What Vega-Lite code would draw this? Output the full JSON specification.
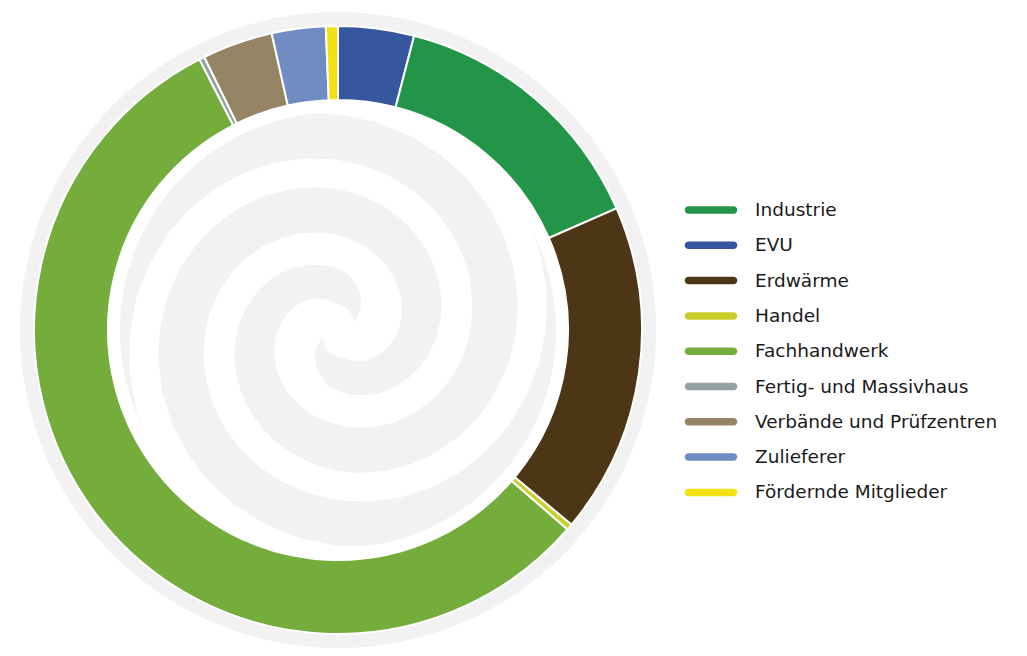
{
  "$schema": "https://vega.github.io/schema/vega-lite/v6.json",
  "width": 640,
  "height": 640,
  "padding": {"left": 18, "top": 10, "right": 0, "bottom": 0},
  "background": "white",
  "config": {"view": {"stroke": null}},
  "datasets": {
    "members": [
      {"name": "EVU", "o": 1, "v": 4.03},
      {"name": "Industrie", "o": 2, "v": 14.42},
      {"name": "Erdwärme", "o": 3, "v": 17.61},
      {"name": "Handel", "o": 4, "v": 0.33},
      {"name": "Fachhandwerk", "o": 5, "v": 56.08},
      {"name": "Fertig- und Massivhaus", "o": 6, "v": 0.28},
      {"name": "Verbände und Prüfzentren", "o": 7, "v": 3.75},
      {"name": "Zulieferer", "o": 8, "v": 2.86},
      {"name": "Fördernde Mitglieder", "o": 9, "v": 0.64}
    ],
    "disc": [{"v": 1}],
    "spiral": [
      {"arm": "A", "a": -120, "x": -210.4, "y": -121.5},
      {"arm": "A", "a": -110, "x": -224.4, "y": -81.7},
      {"arm": "A", "a": -100, "x": -231.1, "y": -40.7},
      {"arm": "A", "a": -90, "x": -230.5, "y": 0},
      {"arm": "A", "a": -80, "x": -222.9, "y": 39.3},
      {"arm": "A", "a": -70, "x": -208.8, "y": 76.0},
      {"arm": "A", "a": -60, "x": -188.8, "y": 109.0},
      {"arm": "A", "a": -50, "x": -163.8, "y": 137.5},
      {"arm": "A", "a": -40, "x": -134.8, "y": 160.6},
      {"arm": "A", "a": -30, "x": -102.8, "y": 178.0},
      {"arm": "A", "a": -20, "x": -68.9, "y": 189.2},
      {"arm": "A", "a": -10, "x": -34.2, "y": 194.2},
      {"arm": "A", "a": 0, "x": 0, "y": 193},
      {"arm": "A", "a": 10, "x": 32.8, "y": 186.0},
      {"arm": "A", "a": 20, "x": 63.2, "y": 173.5},
      {"arm": "A", "a": 30, "x": 90.3, "y": 156.3},
      {"arm": "A", "a": 40, "x": 113.3, "y": 135.1},
      {"arm": "A", "a": 50, "x": 131.9, "y": 110.7},
      {"arm": "A", "a": 60, "x": 145.5, "y": 84.0},
      {"arm": "A", "a": 70, "x": 153.9, "y": 56.0},
      {"arm": "A", "a": 80, "x": 157.2, "y": 27.7},
      {"arm": "A", "a": 90, "x": 155.5, "y": 0},
      {"arm": "A", "a": 100, "x": 149.0, "y": -26.3},
      {"arm": "A", "a": 110, "x": 138.3, "y": -50.3},
      {"arm": "A", "a": 120, "x": 123.8, "y": -71.5},
      {"arm": "A", "a": 130, "x": 106.3, "y": -89.2},
      {"arm": "A", "a": 140, "x": 86.6, "y": -103.2},
      {"arm": "A", "a": 150, "x": 65.3, "y": -113.0},
      {"arm": "A", "a": 160, "x": 43.2, "y": -118.7},
      {"arm": "A", "a": 170, "x": 21.2, "y": -120.3},
      {"arm": "A", "a": 180, "x": 0, "y": -118},
      {"arm": "A", "a": 190, "x": -19.8, "y": -112.1},
      {"arm": "A", "a": 200, "x": -37.5, "y": -103.1},
      {"arm": "A", "a": 210, "x": -52.8, "y": -91.4},
      {"arm": "A", "a": 220, "x": -65.1, "y": -77.6},
      {"arm": "A", "a": 230, "x": -74.4, "y": -62.5},
      {"arm": "A", "a": 240, "x": -80.5, "y": -46.5},
      {"arm": "A", "a": 250, "x": -83.5, "y": -30.4},
      {"arm": "A", "a": 260, "x": -83.4, "y": -14.7},
      {"arm": "A", "a": 270, "x": -80.5, "y": 0},
      {"arm": "A", "a": 280, "x": -75.2, "y": 13.3},
      {"arm": "A", "a": 290, "x": -67.8, "y": 24.7},
      {"arm": "A", "a": 300, "x": -58.9, "y": 34.0},
      {"arm": "A", "a": 310, "x": -48.9, "y": 41.0},
      {"arm": "A", "a": 320, "x": -38.4, "y": 45.7},
      {"arm": "A", "a": 330, "x": -27.8, "y": 48.1},
      {"arm": "A", "a": 340, "x": -17.6, "y": 48.2},
      {"arm": "A", "a": 350, "x": -8.2, "y": 46.5},
      {"arm": "A", "a": 360, "x": 0, "y": 43},
      {"arm": "A", "a": 370, "x": 6.7, "y": 38.2},
      {"arm": "A", "a": 380, "x": 11.9, "y": 32.6},
      {"arm": "A", "a": 390, "x": 15.3, "y": 26.4},
      {"arm": "A", "a": 400, "x": 16.9, "y": 20.2},
      {"arm": "A", "a": 410, "x": 17.0, "y": 14.3},
      {"arm": "A", "a": 420, "x": 15.6, "y": 9.0},
      {"arm": "B", "a": -120, "x": 210.4, "y": 121.5},
      {"arm": "B", "a": -110, "x": 224.4, "y": 81.7},
      {"arm": "B", "a": -100, "x": 231.1, "y": 40.7},
      {"arm": "B", "a": -90, "x": 230.5, "y": 0},
      {"arm": "B", "a": -80, "x": 222.9, "y": -39.3},
      {"arm": "B", "a": -70, "x": 208.8, "y": -76.0},
      {"arm": "B", "a": -60, "x": 188.8, "y": -109.0},
      {"arm": "B", "a": -50, "x": 163.8, "y": -137.5},
      {"arm": "B", "a": -40, "x": 134.8, "y": -160.6},
      {"arm": "B", "a": -30, "x": 102.8, "y": -178.0},
      {"arm": "B", "a": -20, "x": 68.9, "y": -189.2},
      {"arm": "B", "a": -10, "x": 34.2, "y": -194.2},
      {"arm": "B", "a": 0, "x": 0, "y": -193},
      {"arm": "B", "a": 10, "x": -32.8, "y": -186.0},
      {"arm": "B", "a": 20, "x": -63.2, "y": -173.5},
      {"arm": "B", "a": 30, "x": -90.3, "y": -156.3},
      {"arm": "B", "a": 40, "x": -113.3, "y": -135.1},
      {"arm": "B", "a": 50, "x": -131.9, "y": -110.7},
      {"arm": "B", "a": 60, "x": -145.5, "y": -84.0},
      {"arm": "B", "a": 70, "x": -153.9, "y": -56.0},
      {"arm": "B", "a": 80, "x": -157.2, "y": -27.7},
      {"arm": "B", "a": 90, "x": -155.5, "y": 0},
      {"arm": "B", "a": 100, "x": -149.0, "y": 26.3},
      {"arm": "B", "a": 110, "x": -138.3, "y": 50.3},
      {"arm": "B", "a": 120, "x": -123.8, "y": 71.5},
      {"arm": "B", "a": 130, "x": -106.3, "y": 89.2},
      {"arm": "B", "a": 140, "x": -86.6, "y": 103.2},
      {"arm": "B", "a": 150, "x": -65.3, "y": 113.0},
      {"arm": "B", "a": 160, "x": -43.2, "y": 118.7},
      {"arm": "B", "a": 170, "x": -21.2, "y": 120.3},
      {"arm": "B", "a": 180, "x": 0, "y": 118},
      {"arm": "B", "a": 190, "x": 19.8, "y": 112.1},
      {"arm": "B", "a": 200, "x": 37.5, "y": 103.1},
      {"arm": "B", "a": 210, "x": 52.8, "y": 91.4},
      {"arm": "B", "a": 220, "x": 65.1, "y": 77.6},
      {"arm": "B", "a": 230, "x": 74.4, "y": 62.5},
      {"arm": "B", "a": 240, "x": 80.5, "y": 46.5},
      {"arm": "B", "a": 250, "x": 83.5, "y": 30.4},
      {"arm": "B", "a": 260, "x": 83.4, "y": 14.7},
      {"arm": "B", "a": 270, "x": 80.5, "y": 0},
      {"arm": "B", "a": 280, "x": 75.2, "y": -13.3},
      {"arm": "B", "a": 290, "x": 67.8, "y": -24.7},
      {"arm": "B", "a": 300, "x": 58.9, "y": -34.0},
      {"arm": "B", "a": 310, "x": 48.9, "y": -41.0},
      {"arm": "B", "a": 320, "x": 38.4, "y": -45.7},
      {"arm": "B", "a": 330, "x": 27.8, "y": -48.1},
      {"arm": "B", "a": 340, "x": 17.6, "y": -48.2},
      {"arm": "B", "a": 350, "x": 8.2, "y": -46.5},
      {"arm": "B", "a": 360, "x": 0, "y": -43},
      {"arm": "B", "a": 370, "x": -6.7, "y": -38.2},
      {"arm": "B", "a": 380, "x": -11.9, "y": -32.6},
      {"arm": "B", "a": 390, "x": -15.3, "y": -26.4},
      {"arm": "B", "a": 400, "x": -16.9, "y": -20.2},
      {"arm": "B", "a": 410, "x": -17.0, "y": -14.3},
      {"arm": "B", "a": 420, "x": -15.6, "y": -9.0}
    ]
  },
  "layer": [
    {
      "data": {"name": "disc"},
      "mark": {"type": "arc", "innerRadius": 292, "outerRadius": 318, "color": "#f2f2f2"},
      "encoding": {"theta": {"field": "v", "type": "quantitative"}}
    },
    {
      "data": {"name": "spiral"},
      "mark": {"type": "trail", "color": "#f2f2f2"},
      "encoding": {
        "x": {"field": "x", "type": "quantitative", "scale": {"domain": [-320, 320], "nice": false, "zero": false}, "axis": null},
        "y": {"field": "y", "type": "quantitative", "scale": {"domain": [-320, 320], "nice": false, "zero": false}, "axis": null},
        "detail": {"field": "arm", "type": "nominal"},
        "order": {"field": "a", "type": "quantitative"},
        "size": {"field": "a", "type": "quantitative", "scale": {"domain": [180, 360, 420], "range": [45, 32, 0], "clamp": true}, "legend": null}
      }
    },
    {
      "data": {"name": "disc"},
      "mark": {"type": "arc", "innerRadius": 218, "outerRadius": 234, "color": "white"},
      "encoding": {"theta": {"field": "v", "type": "quantitative"}}
    },
    {
      "data": {"name": "members"},
      "mark": {"type": "arc", "innerRadius": 230, "outerRadius": 304, "stroke": "white", "strokeWidth": 2},
      "encoding": {
        "theta": {"field": "v", "type": "quantitative", "stack": true},
        "order": {"field": "o", "type": "quantitative"},
        "color": {
          "field": "name",
          "type": "nominal",
          "scale": {
            "domain": ["Industrie", "EVU", "Erdwärme", "Handel", "Fachhandwerk", "Fertig- und Massivhaus", "Verbände und Prüfzentren", "Zulieferer", "Fördernde Mitglieder"],
            "range": ["#239548", "#36569e", "#4d3616", "#c9cf2a", "#74ad3c", "#95a0a0", "#968564", "#718bc3", "#f2e212"]
          },
          "legend": {
            "orient": "none",
            "legendX": 668,
            "legendY": 175,
            "title": null,
            "symbolType": "M-0.9,-0.15L0.9,-0.15A0.15,0.15,0,0,1,0.9,0.15L-0.9,0.15A0.15,0.15,0,0,1,-0.9,-0.15Z",
            "symbolSize": 2500,
            "symbolStrokeWidth": 0,
            "symbolOpacity": 1,
            "labelFont": "DejaVu Sans",
            "labelFontSize": 18.5,
            "labelColor": "#1a1a1a",
            "labelOffset": 19,
            "labelLimit": 400,
            "rowPadding": 0.3
          }
        }
      }
    }
  ],
  "resolve": {"scale": {"theta": "independent"}}
}
